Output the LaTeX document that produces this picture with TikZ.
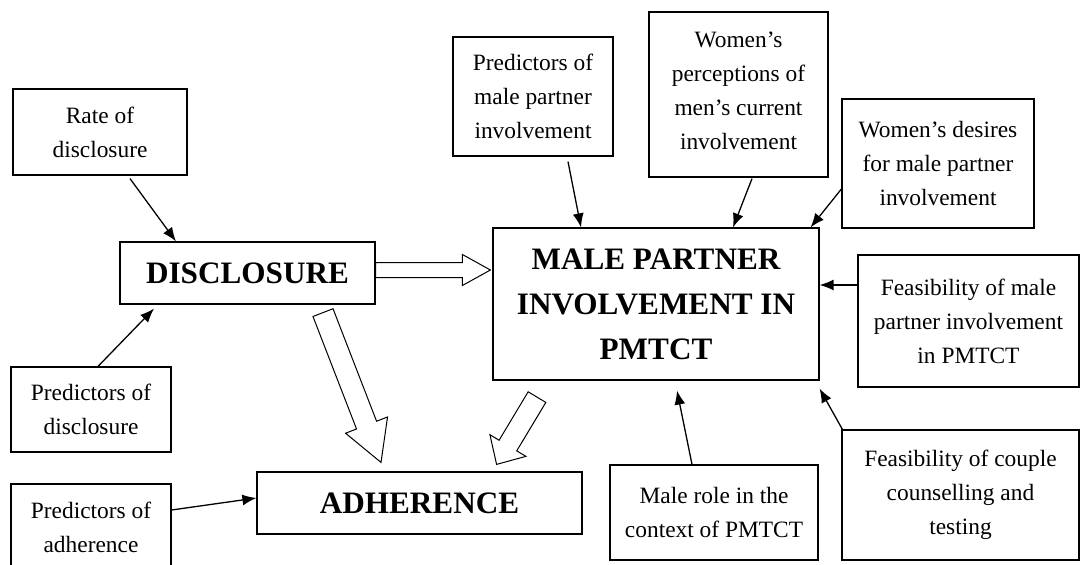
\documentclass[tikz,border=0pt]{standalone}
\usepackage{fontspec}
\setmainfont{Liberation Serif}
\usetikzlibrary{calc}
\usetikzlibrary{arrows.meta}
\newcommand\hollowarrow[5]{
	\coordinate (hb) at ($(#2)!#5!(#1)$);
	\draw[line width=1pt,fill=white] ($(#1)!#3!90:(#2)$)--($(hb)!#3!90:(#2)$)--($(hb)!#4!90:(#2)$)--(#2)
		--($(hb)!#4!-90:(#2)$)--($(hb)!#3!-90:(#2)$)--($(#1)!#3!-90:(#2)$)--cycle;
	}
\tikzset{
	box/.style={draw,line width=1.2pt,align=center,inner sep=0pt,font=\fontsize{23.4}{34}\selectfont},
	title/.style={draw,line width=1.2pt,align=center,inner sep=0pt,font=\fontsize{31.2}{45}\selectfont\bfseries},
	link/.style={line width=1.3pt,-{Latex[length=14pt,width=11pt]}}
	}
\begin{document}
\begin{tikzpicture}[x=1pt,y=-1pt]
					\useasboundingbox (0,0) rectangle (1080,565);
					\node[title,minimum width=255pt,minimum height=62pt] (disc) at (247.5,273) {DISCLOSURE};
					\node[title,minimum width=325pt,minimum height=62pt] (adh) at (419.5,503) {ADHERENCE};
					\node[title,minimum width=326pt,minimum height=152pt] (mpi) at (656,304) {MALE PARTNER\\INVOLVEMENT IN\\PMTCT};
					\node[box,minimum width=174pt,minimum height=86pt] (rate) at (100,132) {Rate of\\disclosure};
					\node[box,minimum width=160pt,minimum height=85pt] (preddisc) at (91,409.5) {Predictors of\\disclosure};
					\node[box,minimum width=160pt,minimum height=86pt] (predadh) at (91,527) {Predictors of\\adherence};
					\node[box,minimum width=160pt,minimum height=119pt] (predmale) at (533,96.5) {Predictors of\\male partner\\involvement};
					\node[box,minimum width=179pt,minimum height=165pt,text depth=8pt] (perc) at (738.5,94.5) {Women’s\\perceptions of\\men’s current\\involvement};
					\node[box,minimum width=192pt,minimum height=129pt] (desire) at (938,163.5) {Women’s desires\\for male partner\\involvement};
					\node[box,minimum width=221pt,minimum height=132pt] (feasmale) at (968.5,321) {Feasibility of male\\partner involvement\\in PMTCT};
					\node[box,minimum width=208pt,minimum height=95pt] (malerole) at (714,512.5) {Male role in the\\context of PMTCT};
					\node[box,minimum width=237pt,minimum height=130pt] (couple) at (960.5,495) {Feasibility of couple\\counselling and\\testing};
					% thin arrows
					\draw[link] ([xshift=30pt,yshift=-3pt]rate.south)--([xshift=-71.5pt]disc.north);
					\draw[link] ([xshift=7pt]preddisc.north)--([xshift=-93.5pt,yshift=-4pt]disc.south);
					\draw[link] ([yshift=17pt]predadh.east)--([yshift=5pt]adh.west);
					\draw[link] ([xshift=35pt,yshift=-5pt]predmale.south)--([xshift=-75pt]mpi.north);
					\draw[link] ([xshift=13.5pt,yshift=-1pt]perc.south)--([xshift=77pt]mpi.north);
					\draw[link] ([yshift=-25.5pt]desire.west)--([xshift=-9pt]mpi.north east);
					\draw[link] ([yshift=36pt]feasmale.west)--([yshift=19pt]mpi.east);
					\draw[link] ([xshift=-22pt]malerole.north)--([xshift=21pt,yshift=-10pt]mpi.south);
					\draw[link] ([xshift=1pt]couple.north west)--([yshift=-8pt]mpi.south east);
					% hollow arrows
					\coordinate (dm1) at ([yshift=3pt]disc.east);
					\coordinate (dm2) at ([xshift=-2pt,yshift=34pt]mpi.west);
					\hollowarrow{dm1}{dm2}{7.5pt}{15.5pt}{28pt}
					\coordinate (da1) at ([xshift=75.5pt,yshift=-8pt]disc.south);
					\coordinate (da2) at ([xshift=-38.5pt,yshift=9pt]adh.north);
					\hollowarrow{da1}{da2}{10.75pt}{22.5pt}{40pt}
					\coordinate (ma1) at ([xshift=-119pt,yshift=-16.5pt]mpi.south);
					\coordinate (ma2) at ([xshift=-86pt,yshift=7pt]adh.north east);
					\hollowarrow{ma1}{ma2}{10.3pt}{21pt}{22pt}
				\end{tikzpicture}
\end{document}
